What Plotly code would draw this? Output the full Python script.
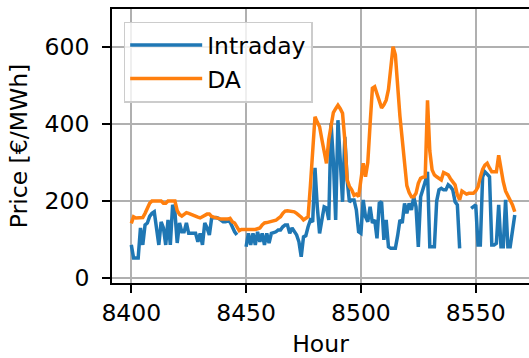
import plotly.graph_objects as go

start_hour = 8400
da = [142, 159, 156, 156, 155, 157, 168, 180, 194, 200,
      200, 198, 200, 200, 194, 194, 200, 200, 199, 200,
      175, 165, 161, 165, 170, 168, 165, 164, 160, 158,
      156, 160, 164, 166, 166, 160, 158, 156, 154, 153,
      153, 152, 153, 155, 146, 143, 133, 123, 126, 126,
      125, 126, 126, 127, 126, 128, 130, 138, 143, 144,
      145, 146, 148, 150, 155, 159, 168, 174, 175, 174,
      174, 172, 168, 164, 158, 151, 155, 159, 240, 330,
      419, 405, 393, 360, 325, 298, 360, 400, 430, 440,
      449, 440, 428, 358, 255, 238, 229, 215, 218, 212,
      250, 298, 263, 300, 400, 493, 497, 480, 462, 442,
      450, 462, 490, 540, 601, 580, 488, 420, 360, 298,
      240, 222, 211, 211, 220, 246, 259, 262, 263, 462,
      330, 281, 268, 263, 259, 255, 274, 270, 268, 258,
      250, 242, 216, 203, 226, 222, 218, 220, 220, 220,
      226, 237, 262, 282, 293, 298, 286, 276, 276, 276,
      319, 280, 250, 226, 215, 203, 190, 172]

intraday = [86, 52, 52, 52, 130, 86, 138, 143, 160, 168,
            172, 125, 86, 146, 130, 86, 151, 86, 190, 172,
            91, 143, 120, 120, 143, 116, 116, 116, 116, 94,
            116, 86, 143, 130, 112, 156, 157, 157, 155, 150,
            146, 146, 148, 146, 130, 120, 112, None, None, None,
            81, 116, 86, 116, 86, 120, 94, 116, 86, 116,
            91, 116, 118, 120, 125, 125, 133, 138, 138, 116,
            130, 120, 112, 94, 55, 107, 110, 133, 151, 146,
            286, 185, 116, 151, 185, 182, 151, 402, 306, 151,
            410, 306, 198, 367, 255, 198, 203, 203, 177, 120,
            116, 203, 159, 146, 185, 143, 151, 103, 194, 198,
            99, 151, 81, 77, 77, 77, 110, 151, 143, 194,
            168, 194, 177, 211, 185, 81, 211, 229, 250, 276,
            81, 81, 81, 200, 229, 233, 229, 229, 242, 237,
            229, 198, 190, 77, None, None, None, None, 181, 185,
            190, 86, 86, 263, 276, 270, 263, 86, 86, 90,
            190, 81, 81, 203, 81, 81, 120, 164]

hours = [start_hour + i for i in range(len(da))]
x_ticks = [8400, 8450, 8500, 8550]
y_ticks = [0, 200, 400, 600]

FONT = "DejaVu Sans"
FS = 23.5

fig = go.Figure()
fig.add_trace(go.Scatter(x=hours, y=intraday, mode="lines", name="Intraday",
                         line=dict(color="#1f77b4", width=3.5), connectgaps=False))
fig.add_trace(go.Scatter(x=hours, y=da, mode="lines", name="DA",
                         line=dict(color="#ff7f0e", width=3.5)))

fig.update_layout(
    width=529, height=358,
    margin=dict(l=112, r=0, t=9, b=75),
    paper_bgcolor="white", plot_bgcolor="white",
    font=dict(family=FONT, size=FS, color="black"),
    showlegend=True,
    legend=dict(x=0.028, y=0.954, xanchor="left", yanchor="top",
                bgcolor="rgba(255,255,255,0.8)", bordercolor="#cccccc", borderwidth=1.5,
                font=dict(family=FONT, size=FS), tracegroupgap=0, itemwidth=72),
    xaxis=dict(range=[8391.6, 8573.2], tickvals=x_ticks, ticks="outside", ticklen=8,
               tickwidth=1.9, tickcolor="black", showline=True, linecolor="black",
               linewidth=1.9, mirror=True, showgrid=True, gridcolor="#b0b0b0",
               gridwidth=1.9, zeroline=False, ticklabelstandoff=0, automargin=False,
               title=dict(text="Hour", standoff=15, font=dict(size=FS))),
    yaxis=dict(range=[-13, 699], tickvals=y_ticks, ticks="outside", ticklen=8,
               tickwidth=1.9, tickcolor="black", showline=True, linecolor="black",
               linewidth=1.9, mirror=False, showgrid=True, gridcolor="#b0b0b0",
               gridwidth=1.9, zeroline=False, ticklabelstandoff=8, automargin=False,
               title=dict(text="Price [€/MWh]", standoff=10, font=dict(size=FS))),
)

fig.write_html("out.html")
